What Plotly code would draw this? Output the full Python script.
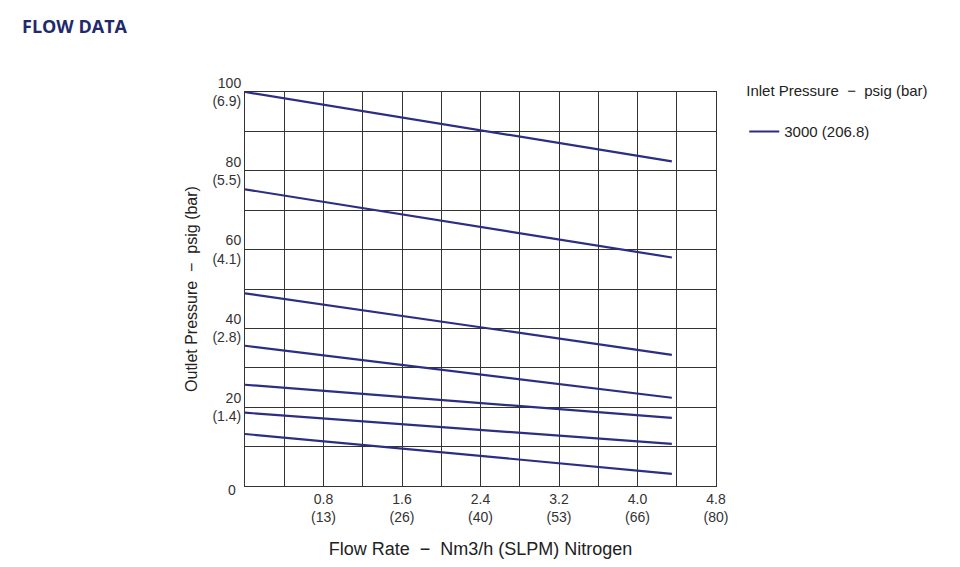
import plotly.graph_objects as go

flow_start = [0.0] * 7
flow_end = [4.35] * 7
outlet_start = [100, 75.3, 48.9, 35.6, 25.7, 18.6, 13.2]
outlet_end = [82.4, 58.0, 33.3, 22.4, 17.3, 10.7, 3.1]
legend_name = "3000 (206.8)"

x_ticks = [0.8, 1.6, 2.4, 3.2, 4.0, 4.8]
x_tick_text = ["0.8<br>(13)", "1.6<br>(26)", "2.4<br>(40)", "3.2<br>(53)", "4.0<br>(66)", "4.8<br>(80)"]
y_ticks = [20, 40, 60, 80, 100]
y_tick_text = ["20<br>(1.4)", "40<br>(2.8)", "60<br>(4.1)", "80<br>(5.5)", "100<br>(6.9)"]

line_color = "#2b2e83"
fig = go.Figure()
for i in range(len(outlet_start)):
    fig.add_trace(go.Scatter(
        x=[flow_start[i], flow_end[i]], y=[outlet_start[i], outlet_end[i]],
        mode="lines", line=dict(color=line_color, width=2.2),
        name=legend_name, showlegend=(i == 0)))

axis_common = dict(showgrid=True, gridcolor="#333", gridwidth=1, showline=True,
                   linecolor="#333", linewidth=1, mirror=True, zeroline=False,
                   ticks="", tickfont=dict(size=14, color="#333"))
fig.update_xaxes(range=[0, 4.8], tickvals=[i * 0.4 for i in range(13)],
                 ticktext=["" if round(i * 0.4, 1) not in x_ticks else x_tick_text[x_ticks.index(round(i * 0.4, 1))] for i in range(13)],
                 title=dict(text="Flow Rate  −  Nm3/h (SLPM) Nitrogen", font=dict(size=18, color="#222"), standoff=18),
                 **axis_common)
fig.update_yaxes(range=[0, 100], tickvals=list(range(0, 101, 10)),
                 ticktext=["" if v not in y_ticks else y_tick_text[y_ticks.index(v)] for v in range(0, 101, 10)],
                 title=dict(text="Outlet Pressure  −  psig (bar)", font=dict(size=16, color="#222"), standoff=10),
                 **axis_common)

fig.add_annotation(text="0", x=(218 - 237) / 471, y=-(492 - 478) / 394, xref="paper", yref="paper",
                   showarrow=False, font=dict(size=14, color="#333"))
fig.add_annotation(text="<b>FLOW DATA</b>", x=(12 - 237) / 471, y=(567 - 89 - 18) / 394,
                   xref="paper", yref="paper", showarrow=False, xanchor="left", yanchor="middle",
                   font=dict(size=18, color="#1f2a6b", family="Open Sans"))

fig.update_layout(
    width=960, height=567,
    margin=dict(l=237, r=252, t=84, b=89, autoexpand=False),
    plot_bgcolor="white", paper_bgcolor="white",
    font=dict(family="Liberation Sans, Arial", color="#333"),
    legend=dict(x=1.06, y=1.04, xanchor="left", yanchor="top",
                title=dict(text="Inlet Pressure  −  psig (bar)<br>", font=dict(size=15, color="#222")),
                font=dict(size=15, color="#222")),
)
fig.write_html("out.html")
